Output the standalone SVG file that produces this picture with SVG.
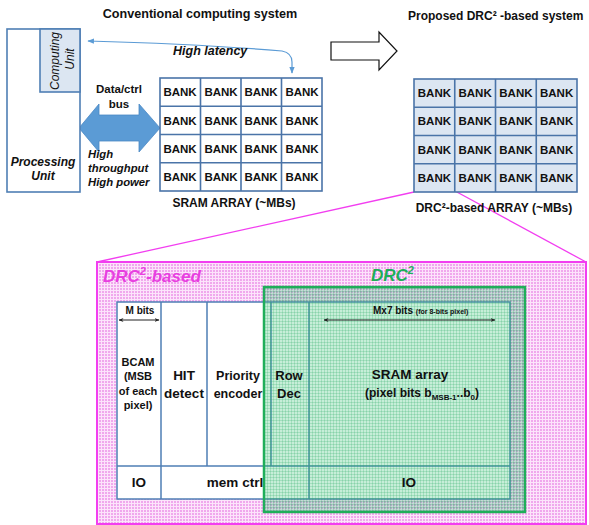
<svg xmlns="http://www.w3.org/2000/svg" width="589" height="525" viewBox="0 0 589 525">
<style>
text{font-family:"Liberation Sans",Arial,sans-serif;fill:#111}
.b{font-weight:bold}
.bi{font-weight:bold;font-style:italic}
.bank{font-weight:bold;font-size:11.5px;text-anchor:middle}
.grid{stroke:#4a74a8;stroke-width:1.6;fill:none}
.blk{stroke:#4f7fb5;stroke-width:1.5}
.c{text-anchor:middle}
</style>
<defs>
<marker id="bl" viewBox="0 0 10 10" refX="9" refY="5" markerWidth="5.5" markerHeight="5.5" orient="auto-start-reverse"><path d="M0,1 L10,5 L0,9 z" fill="#5b9bd5"/></marker>
<marker id="dk" viewBox="0 0 10 10" refX="9" refY="5" markerWidth="5" markerHeight="5" orient="auto-start-reverse"><path d="M0,1 L10,5 L0,9 L3,5 z" fill="#222"/></marker>
<pattern id="pk" width="3" height="3" patternUnits="userSpaceOnUse"><rect width="3" height="3" fill="#fce4fb"/><rect width="2" height="2" fill="#f0a8ed"/></pattern>
<pattern id="gr" width="3" height="3" patternUnits="userSpaceOnUse"><rect width="3" height="3" fill="#2cbf6e" fill-opacity="0.27"/><rect width="3" height="1" fill="#2aa866" fill-opacity="0.22"/><rect width="1" height="3" fill="#2aa866" fill-opacity="0.22"/></pattern>
</defs>
<rect width="589" height="525" fill="#fff"/>

<!-- titles -->
<text class="b c" x="200" y="18" font-size="12.6">Conventional computing system</text>
<text class="b" x="408" y="20" font-size="12">Proposed DRC² -based  system</text>

<g id="connectors">
  <path d="M88,41 Q200,44 282,51 Q292,53 292,62 L292,73" fill="none" stroke="#5b9bd5" stroke-width="1.2" marker-start="url(#bl)" marker-end="url(#bl)"/>
  <polygon points="79,128 99,104 99,115 139,115 139,104 160,128 139,152 139,141 99,141 99,152" fill="#5b9bd5" stroke="#4a88c4" stroke-width="0.8"/>
  <polygon points="331,42 379,42 379,32 397,51 379,70 379,60 331,60" fill="#fff" stroke="#111" stroke-width="1.2"/>
  <line x1="414" y1="192" x2="97" y2="262" stroke="#f23ef0" stroke-width="1.3"/>
  <line x1="455" y1="191" x2="586" y2="262" stroke="#f23ef0" stroke-width="1.3"/>
</g>

<g id="processing-unit">
  <rect x="7" y="29" width="73" height="163" fill="#fff" stroke="#4f7fb5" stroke-width="1.6"/>
  <text class="bi c" x="43" y="166" font-size="12">Processing</text>
  <text class="bi c" x="43" y="180" font-size="12">Unit</text>
</g>
<g id="computing-unit">
  <rect x="40" y="29" width="40" height="63" fill="#dce6f2" stroke="#4f7fb5" stroke-width="1.6"/>
  <text class="c" font-style="italic" font-size="12" transform="translate(59,61) rotate(-90)">Computing</text>
  <text class="c" font-style="italic" font-size="12" transform="translate(74,59) rotate(-90)">Unit</text>
</g>

<g id="bus-labels">
  <text class="b c" x="119" y="93" font-size="11.5">Data/ctrl</text>
  <text class="b c" x="119" y="108" font-size="11.5">bus</text>
  <text class="bi" x="88" y="158" font-size="11.3">High</text>
  <text class="bi" x="88" y="172" font-size="11.3">throughput</text>
  <text class="bi" x="88" y="186" font-size="11.3">High power</text>
  <text class="bi" x="173" y="55" font-size="12.5">High latency</text>
</g>

<g id="sram-array">
  <rect x="160" y="78" width="162" height="113" class="grid" style="fill:#fff"/>
  <path class="grid" d="M200.5,78V191M241,78V191M281.5,78V191M160,106.25H322M160,134.5H322M160,162.75H322"/>
  <text class="bank" x="180" y="96">BANK</text><text class="bank" x="221" y="96">BANK</text><text class="bank" x="261" y="96">BANK</text><text class="bank" x="302" y="96">BANK</text>
  <text class="bank" x="180" y="124.5">BANK</text><text class="bank" x="221" y="124.5">BANK</text><text class="bank" x="261" y="124.5">BANK</text><text class="bank" x="302" y="124.5">BANK</text>
  <text class="bank" x="180" y="152.7">BANK</text><text class="bank" x="221" y="152.7">BANK</text><text class="bank" x="261" y="152.7">BANK</text><text class="bank" x="302" y="152.7">BANK</text>
  <text class="bank" x="180" y="181">BANK</text><text class="bank" x="221" y="181">BANK</text><text class="bank" x="261" y="181">BANK</text><text class="bank" x="302" y="181">BANK</text>
  <text class="b c" x="234" y="207" font-size="12">SRAM ARRAY (~MBs)</text>
</g>

<g id="drc-array">
  <rect x="414" y="79" width="163" height="113" class="grid" style="fill:#dce6f2"/>
  <path class="grid" d="M454.75,79V192M495.5,79V192M536.25,79V192M414,107.25H577M414,135.5H577M414,163.75H577"/>
  <text class="bank" x="434.4" y="97">BANK</text><text class="bank" x="475.1" y="97">BANK</text><text class="bank" x="515.9" y="97">BANK</text><text class="bank" x="556.6" y="97">BANK</text>
  <text class="bank" x="434.4" y="125.4">BANK</text><text class="bank" x="475.1" y="125.4">BANK</text><text class="bank" x="515.9" y="125.4">BANK</text><text class="bank" x="556.6" y="125.4">BANK</text>
  <text class="bank" x="434.4" y="153.6">BANK</text><text class="bank" x="475.1" y="153.6">BANK</text><text class="bank" x="515.9" y="153.6">BANK</text><text class="bank" x="556.6" y="153.6">BANK</text>
  <text class="bank" x="434.4" y="182">BANK</text><text class="bank" x="475.1" y="182">BANK</text><text class="bank" x="515.9" y="182">BANK</text><text class="bank" x="556.6" y="182">BANK</text>
  <text class="b c" x="494" y="212" font-size="12">DRC²-based  ARRAY (~MBs)</text>
</g>

<g id="drc2-based">
  <rect x="97" y="262" width="489" height="262" fill="url(#pk)" stroke="#f23ef0" stroke-width="2"/>
  <text class="bi" x="103" y="282" font-size="17" style="fill:#e83fe0">DRC<tspan font-size="11" dy="-7">2</tspan><tspan dy="7">-based</tspan></text>
</g>

<g id="blocks">
  <rect x="117" y="302" width="393" height="197" fill="#fff" class="blk"/>
  <path class="blk" fill="none" d="M161,302V499M207,302V466M271,302V466M309,302V499M117,466H510"/>
</g>

<g id="drc2">
  <rect x="264" y="287" width="261" height="225" fill="url(#gr)" stroke="#1fae5a" stroke-width="2.5"/>
  <text class="bi" x="371" y="281" font-size="17" style="fill:#1fae5a">DRC<tspan font-size="11" dy="-7">2</tspan></text>
</g>

<g id="labels">
  <text class="b c" x="140" y="314" font-size="10">M bits</text>
  <line x1="119" y1="320" x2="159" y2="320" stroke="#222" stroke-width="1" marker-start="url(#dk)" marker-end="url(#dk)"/>
  <text class="b c" x="138" y="366" font-size="11">BCAM</text>
  <text class="b c" x="138" y="380" font-size="11">(MSB</text>
  <text class="b c" x="138" y="395" font-size="11">of each</text>
  <text class="b c" x="138" y="409" font-size="11">pixel)</text>
  <text class="b c" x="184" y="380" font-size="13.5">HIT</text>
  <text class="b c" x="184" y="398" font-size="13.5">detect</text>
  <text class="b c" x="238" y="380" font-size="12.5">Priority</text>
  <text class="b c" x="238" y="398" font-size="12.5">encoder</text>
  <text class="b c" x="289" y="380" font-size="13">Row</text>
  <text class="b c" x="289" y="398" font-size="13">Dec</text>
  <text class="b c" x="410" y="379" font-size="13.5">SRAM array</text>
  <text class="b c" x="422" y="397" font-size="12">(pixel bits b<tspan font-size="8" dy="3">MSB-1</tspan><tspan dy="-3">..b</tspan><tspan font-size="8" dy="3">0</tspan><tspan dy="-3">)</tspan></text>
  <text class="b" x="373" y="314" font-size="10">Mx7 bits <tspan font-size="7">(for 8-bits pixel)</tspan></text>
  <line x1="324" y1="320" x2="495" y2="320" stroke="#222" stroke-width="1" marker-start="url(#dk)" marker-end="url(#dk)"/>
  <text class="b c" x="139" y="487" font-size="13.5">IO</text>
  <text class="b c" x="235" y="487" font-size="13.5">mem ctrl</text>
  <text class="b c" x="409" y="487" font-size="13.5">IO</text>
</g>
</svg>
